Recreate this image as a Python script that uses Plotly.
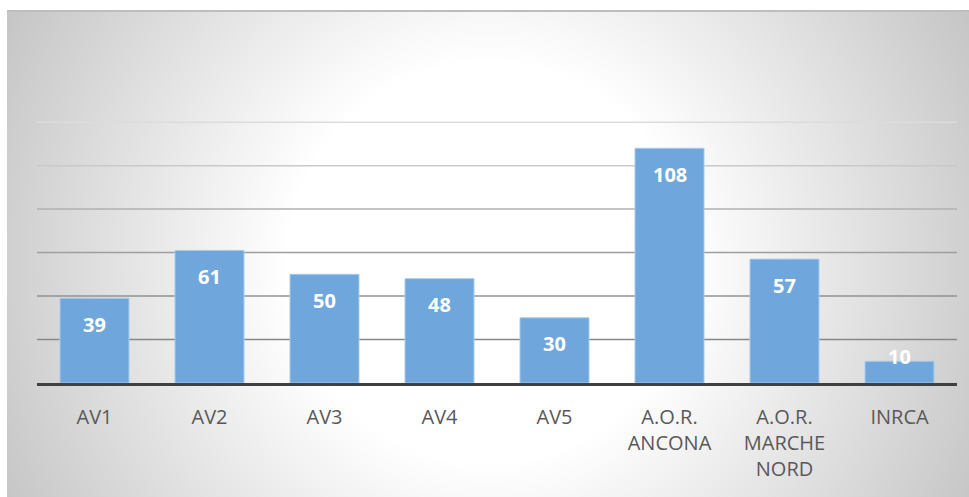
import base64
import struct
import zlib

import numpy as np
import plotly.graph_objects as go

# ---- data -------------------------------------------------------------
categories = ["AV1", "AV2", "AV3", "AV4", "AV5",
              "A.O.R.<br>ANCONA", "A.O.R.<br>MARCHE<br>NORD", "INRCA"]
values = [39, 61, 50, 48, 30, 108, 57, 10]
grid_values = [20, 40, 60, 80, 100, 120]
grid_colors = ["#878787", "#929292", "#9e9e9e", "#b0b0b0", "#c9c9c9", "#dcdcdc"]

# ---- canvas geometry (pixels) ----------------------------------------
W, H = 969, 497
PLOT_L, PLOT_R, PLOT_T, PLOT_B = 37, 957, 120, 383
FRAME_L, FRAME_T = 7, 10
Y_MAX = 121


def px_to_paper_x(px):
    return (px - PLOT_L) / (PLOT_R - PLOT_L)


def px_to_paper_y(py):
    return (PLOT_B - py) / (PLOT_B - PLOT_T)


# ---- radial grey background, encoded as a PNG ------------------------
def radial_png(w, h, cx, cy, r0, r1, light=255, dark=196):
    yy, xx = np.mgrid[0:h, 0:w].astype(float)
    r = np.hypot(xx - cx, yy - cy)
    t = np.clip((r - r0) / (r1 - r0), 0, 1)
    img = (light - (light - dark) * t).round().astype(np.uint8)
    raw = b"".join(b"\x00" + img[i].tobytes() for i in range(h))

    def chunk(tag, data):
        c = struct.pack(">I", len(data)) + tag + data
        return c + struct.pack(">I", zlib.crc32(tag + data) & 0xFFFFFFFF)

    png = b"\x89PNG\r\n\x1a\n"
    png += chunk(b"IHDR", struct.pack(">IIBBBBB", w, h, 8, 0, 0, 0, 0))
    png += chunk(b"IDAT", zlib.compress(raw, 9))
    png += chunk(b"IEND", b"")
    return "data:image/png;base64," + base64.b64encode(png).decode()


bw, bh = W - FRAME_L, H - FRAME_T
bg_src = radial_png(bw, bh, cx=488 - FRAME_L, cy=262 - FRAME_T, r0=200, r1=550)

# ---- figure -----------------------------------------------------------
fig = go.Figure()
fig.add_trace(go.Bar(
    x=categories,
    y=values,
    marker=dict(color="#6fa7dc", line=dict(color="#a9cbec", width=1)),
    hoverinfo="skip",
))

# value labels inside the top of each bar (kept above the axis for short bars)
for cat, v in zip(categories, values):
    fig.add_annotation(
        x=cat, y=max(v - 12, 12), text=f"<b>{v}</b>", showarrow=False,
        yanchor="middle", xanchor="center",
        font=dict(family="Open Sans", size=20, color="white"),
    )

# horizontal grid lines, darker towards the baseline
shapes = []
for gv, gc in zip(grid_values, grid_colors):
    shapes.append(dict(type="line", xref="paper", yref="y", x0=0, x1=1,
                       y0=gv, y1=gv, line=dict(color=gc, width=1.5),
                       layer="below"))
# thin border across the top of the chart frame
shapes.append(dict(type="line", xref="paper", yref="paper",
                   x0=px_to_paper_x(FRAME_L), x1=px_to_paper_x(W),
                   y0=px_to_paper_y(FRAME_T + 1), y1=px_to_paper_y(FRAME_T + 1),
                   line=dict(color="#bdbdbd", width=2), layer="below"))

fig.update_layout(
    width=W, height=H,
    margin=dict(l=PLOT_L, r=W - PLOT_R, t=PLOT_T, b=H - PLOT_B, pad=0),
    paper_bgcolor="white",
    plot_bgcolor="rgba(0,0,0,0)",
    bargap=0.4,
    showlegend=False,
    shapes=shapes,
    images=[dict(
        source=bg_src, xref="paper", yref="paper",
        x=px_to_paper_x(FRAME_L), y=px_to_paper_y(FRAME_T),
        sizex=px_to_paper_x(W) - px_to_paper_x(FRAME_L),
        sizey=px_to_paper_y(FRAME_T) - px_to_paper_y(H),
        xanchor="left", yanchor="top", sizing="stretch", layer="below",
    )],
    xaxis=dict(
        showline=True, linecolor="#404040", linewidth=3,
        showgrid=False, ticks="", ticklabelstandoff=14,
        tickfont=dict(family="Open Sans", size=20, color="#595959"),
    ),
    yaxis=dict(
        range=[0, Y_MAX], showgrid=False, zeroline=False,
        showticklabels=False, showline=False, ticks="",
    ),
)

fig.write_html("out.html")
